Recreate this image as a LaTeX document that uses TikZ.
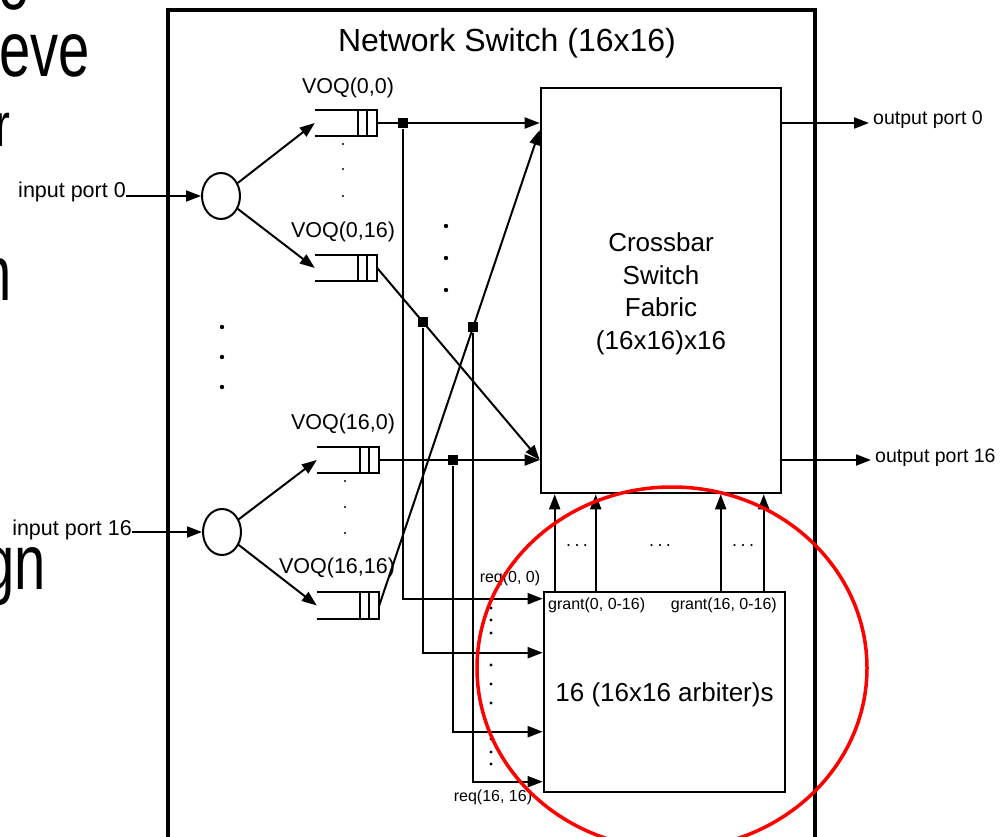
\documentclass[tikz,border=0pt]{standalone}
\usepackage{fontspec}
\setmainfont{Liberation Sans}
\usetikzlibrary{arrows.meta,shapes.geometric}
\newcommand\fsz[1]{\fontsize{#1pt}{#1pt}\selectfont}
% open queue with two cells at its right end
\newcommand\voqlines[1]{\draw[wire] (#1.north west) -- (#1.north east) -- (#1.south east) -- (#1.south west)
  ([xshift=-10pt]#1.north east) -- ([xshift=-10pt]#1.south east)
  ([xshift=-19pt]#1.north east) -- ([xshift=-19pt]#1.south east);}
\newcommand\slide[1]{\scalebox{0.72}[1]{#1}}
\newcommand\gap{.\hspace{3.5pt}.\hspace{3.5pt}.}
\begin{document}
\begin{tikzpicture}[x=1pt,y=-1pt,
  wire/.style={line width=2pt},
  arr/.style={wire,-{Triangle[length=15pt,width=11pt]}},
  box/.style={draw,line width=2.6pt,inner sep=0pt},
  que/.style={minimum width=62pt,minimum height=26pt,inner sep=0pt},
  dmx/.style={ellipse,draw,wire,minimum width=38pt,minimum height=46pt,inner sep=0pt},
  jn/.style={fill,minimum size=10pt,inner sep=0pt},
  lbl/.style={inner sep=0pt},
  frag/.style={anchor=base east,inner sep=0pt,font=\fsz{78}}]
\useasboundingbox (0,0) rectangle (1001,837);
\clip (0,0) rectangle (1001,837);
% slide text behind the figure
\node[frag] (s1) at (30,10) {\slide{o}};
\node[frag] (s2) at (90,77) {\slide{eve}};
\node[frag,font=\fsz{62}] (s3) at (11,147) {\slide{r}};
\node[frag] (s4) at (12,300) {\slide{n}};
\node[frag] (s5) at (46,589) {\slide{gn}};
% switch frame
\draw[line width=3.4pt] (168,10) rectangle (815,880);
\node[font=\fsz{32}] (title) at (507,43) {Network Switch (16x16)};
\node[box,minimum width=240pt,minimum height=405pt] (xbar) at (661,290.5) {};
\node[align=center,font=\fontsize{26pt}{32.5pt}\selectfont] (xtxt) at ([yshift=-3.5pt]xbar.center)
  {Crossbar\\Switch\\Fabric\\(16x16)x16};
\node[box,minimum width=241pt,minimum height=200pt] (arb) at (664.5,692) {};
\node[font=\fsz{26}] (atxt) at ([yshift=-3pt]arb.center) {16 (16x16 arbiter)s};
% VOQs
\node[que] (q00) at (346,123) {};
\node[que] (q016) at (346,268) {};
\node[que] (q160) at (348,460) {};
\node[que] (q1616) at (348,605.5) {};
\foreach \q in {q00,q016,q160,q1616} \voqlines{\q};
\node[font=\fsz{21.5}] (l00) at (348,88) {VOQ(0,0)};
\node[font=\fsz{21.5}] (l016) at (343,232) {VOQ(0,16)};
\node[font=\fsz{21.5}] (l160) at (343,424) {VOQ(16,0)};
\node[font=\fsz{21.5}] (l1616) at (337,568) {VOQ(16,16)};
% input ports
\node[dmx] (d0) at (221,196) {};
\node[dmx] (d16) at (222,532) {};
\node[lbl,anchor=base east,font=\fsz{21.5}] (in0) at (126,198) {input port 0};
\node[lbl,anchor=base east,font=\fsz{21.5}] (in16) at (132,535) {input port 16};
\draw[arr] (in0.east |- d0) -- (d0.west);
\draw[arr] (in16.east |- d16) -- (d16.west);
\draw[arr] (d0) -- (q00.west);
\draw[arr] (d0) -- (q016.west);
\draw[arr] (d16) -- (q160.west);
\draw[arr] (d16) -- (q1616.west);
% VOQs to crossbar
\draw[arr] (q00.east) -- node[jn,pos=0.159] (j00) {} (q00 -| xbar.west);
\draw[arr] (q016.east) -- node[jn,pos=0.28] (j016) {} (q160 -| xbar.west);
\draw[arr] (q160.east) -- node[jn,pos=0.457] (j160) {} (q160 -| xbar.west);
\draw[arr] (q1616.east) -- node[jn,pos=0.586] (j1616) {} ([yshift=-7pt]q00 -| xbar.west);
% requests
\coordinate (r1) at ([yshift=-8pt]arb.north west);
\coordinate (r2) at ([yshift=-62pt]arb.north west);
\coordinate (r3) at ([yshift=-141pt]arb.north west);
\coordinate (r4) at ([yshift=-191pt]arb.north west);
\draw[arr] (j00) |- (r1);
\draw[arr] (j016) |- (r2);
\draw[arr] (j160) |- (r3);
\draw[arr] (j1616) |- (r4);
\node[font=\fsz{16}] (rq0) at (510,578) {req(0, 0)};
\node[font=\fsz{16}] (rq16) at (493,797) {req(16, 16)};
% grants
\foreach \gx [count=\i] in {12,53,178,221} {
  \coordinate (g\i) at ([xshift=\gx pt]arb.north west);
  \draw[arr] (g\i) -- (g\i |- xbar.south);
}
\node[lbl,anchor=west,font=\fsz{16}] (gr0) at (548,605) {grant(0, 0-16)};
\node[lbl,anchor=east,font=\fsz{16}] (gr16) at (777,605) {grant(16, 0-16)};
\node[font=\fsz{18}] (e1) at (577,546) {\gap};
\node[font=\fsz{18}] (e2) at (660,546) {\gap};
\node[font=\fsz{18}] (e3) at (743,546) {\gap};
% output ports
\node[lbl,anchor=base west,font=\fsz{19.5}] (out0) at (873,125) {output port 0};
\node[lbl,anchor=base west,font=\fsz{19.5}] (out16) at (875,462) {output port 16};
\draw[arr] (q00 -| xbar.east) -- ([xshift=-4pt]q00 -| out0.west);
\draw[arr] (q160 -| xbar.east) -- ([xshift=-4pt]q160 -| out16.west);
% dots
\foreach \y in {327,357,387} \fill (222,\y) circle (2.2pt);
\foreach \y in {226,258,290} \fill (446,\y) circle (2.2pt);
\foreach \y in {144,169,196} \fill (343,\y) circle (1.2pt);
\foreach \y in {481,507,533} \fill (345,\y) circle (1.2pt);
\foreach \y in {608,620,633,665,684,703,739,752,764} \fill (491,\y) circle (1.6pt);
% highlight
\draw[red,line width=3.5pt] (672,668) ellipse [x radius=195pt,y radius=181pt];
\end{tikzpicture}
\end{document}
